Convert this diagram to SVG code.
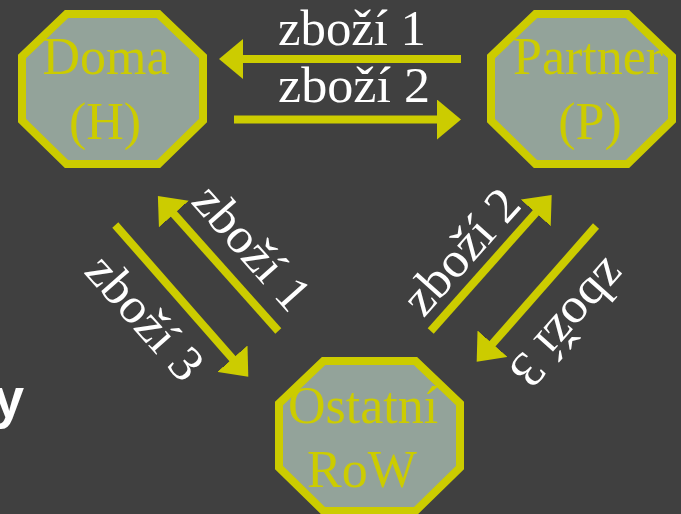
<svg xmlns="http://www.w3.org/2000/svg" xmlns:xlink="http://www.w3.org/1999/xlink" width="681" height="514" viewBox="0 0 681 514">
<style>
.bg{fill:#404040}
.octf{fill:#93A39A;stroke:none}
.octs{fill:none;stroke:#CCCC00;stroke-width:8;stroke-linejoin:miter}
.nt{font-family:"Liberation Serif","Times New Roman",serif;font-size:52px;fill:#CCCC00;text-anchor:middle}
.lt{font-family:"Liberation Serif","Times New Roman",serif;font-size:50px;fill:#FFFFFF;text-anchor:middle}
.ar{fill:none;stroke:#CCCC00;stroke-width:8;marker-end:url(#ah)}
.side{font-family:"Liberation Sans",Arial,sans-serif;font-weight:bold;font-size:55px;fill:#FFFFFF}
</style>
<defs>
<polygon id="oct" points="48.5,4 140.5,4 185,46.5 185,110.5 140.5,154 48.5,154 4,110.5 4,46.5"/>
<marker id="ah" markerUnits="userSpaceOnUse" markerWidth="24" markerHeight="40" viewBox="0 0 24 40" refX="4" refY="20" orient="auto">
<path d="M0,0 L24,20 L0,40 Z" fill="#CCCC00"/>
</marker>
</defs>
<rect class="bg" x="0" y="0" width="681" height="514"/>

<g id="node-doma">
<use xlink:href="#oct" class="octf" x="18" y="10"/>
<text class="nt" x="106" y="74">Doma</text>
<text class="nt" x="105" y="139">(H)</text>
<use xlink:href="#oct" class="octs" x="18" y="10"/>
</g>

<g id="node-partner">
<use xlink:href="#oct" class="octf" x="487" y="10"/>
<text class="nt" x="513" y="74" style="text-anchor:start">Partner</text>
<text class="nt" x="590" y="139">(P)</text>
<use xlink:href="#oct" class="octs" x="487" y="10"/>
</g>

<g id="node-ostatni">
<use xlink:href="#oct" class="octf" x="275" y="357"/>
<text class="nt" x="363" y="423">Ostatní</text>
<text class="nt" x="362" y="487">RoW</text>
<use xlink:href="#oct" class="octs" x="275" y="357"/>
</g>

<g id="connectors">
<line class="ar" x1="461" y1="59" x2="239" y2="59"/>
<line class="ar" x1="234" y1="119.5" x2="441" y2="119.5"/>
<line class="ar" x1="278.3" y1="331" x2="171.2" y2="211"/>
<line class="ar" x1="115.3" y1="225" x2="235.1" y2="361.7"/>
<line class="ar" x1="430.7" y1="331" x2="538.4" y2="209.9"/>
<line class="ar" x1="596" y1="226" x2="489.9" y2="346.7"/>
<text class="lt" x="352" y="45" textLength="148" lengthAdjust="spacingAndGlyphs">zboží 1</text>
<text class="lt" x="354" y="102" textLength="152" lengthAdjust="spacingAndGlyphs">zboží 2</text>
<text class="lt" transform="translate(248,251) rotate(48.4)" x="0" y="11" textLength="150" lengthAdjust="spacingAndGlyphs">zboží 1</text>
<text class="lt" transform="translate(141,321) rotate(48.4)" x="0" y="11" textLength="150" lengthAdjust="spacingAndGlyphs">zboží 3</text>
<text class="lt" transform="translate(465,255) rotate(-48.4)" x="0" y="11" textLength="150" lengthAdjust="spacingAndGlyphs">zboží 2</text>
<text class="lt" transform="translate(565,320) rotate(131.6)" x="0" y="11" textLength="150" lengthAdjust="spacingAndGlyphs">zboží 3</text>
</g>

<text class="side" x="24" y="417" text-anchor="end">y</text>
</svg>
